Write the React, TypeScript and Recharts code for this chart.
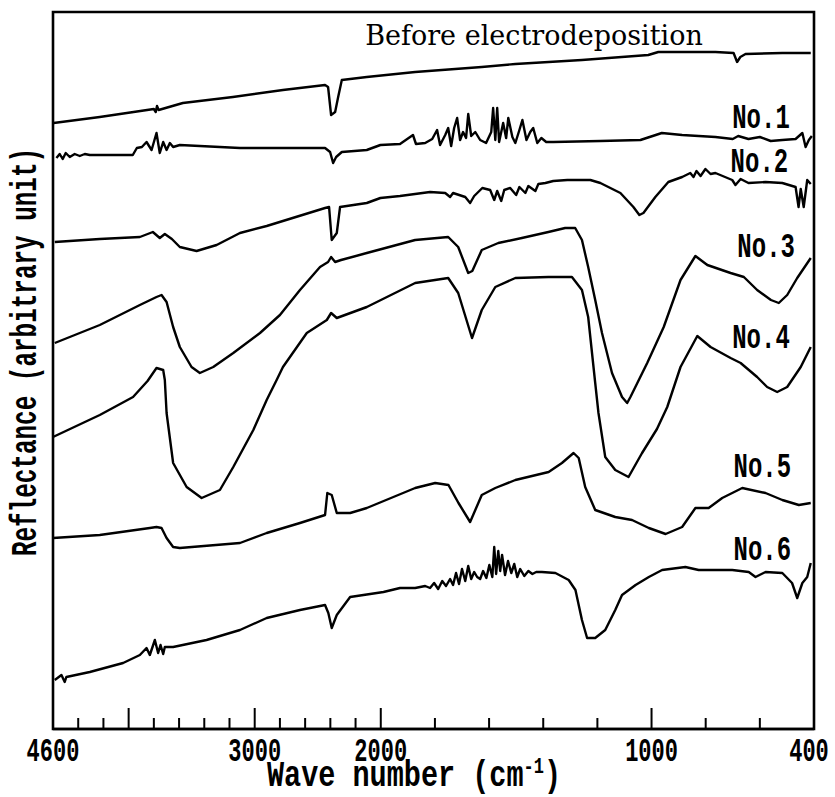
import React from 'react';
import { LineChart, Line, XAxis, YAxis, ReferenceArea, ReferenceDot, Label } from 'recharts';

// ---------- axis model (IR chart paper: scale doubles below 2000 cm-1) ----------
const LEFT_WN = 4600;
const BREAK_WN = 2000;
const RIGHT_WN = 400;
const EXPAND = 2.1478;
const toU = (w: number) =>
  w >= BREAK_WN ? LEFT_WN - w : LEFT_WN - BREAK_WN + (BREAK_WN - w) * EXPAND;
const U_MAX = toU(RIGHT_WN);
const Y_MAX = 717;

// ---------- ticks ----------
const tickWn = [4600, 4400, 4200, 4000, 3800, 3600, 3400, 3200, 3000, 2800, 2600, 2400, 2200, 2000, 1800, 1600, 1400, 1200, 1000, 800, 600, 400];
const majorWn = [4000, 3000, 2000, 1000];
const labeledWn = [4600, 3000, 2000, 1000, 400];

// ---------- spectra: [wave number (cm-1), reflectance (arb.)] ----------
const before: [number, number][] = [
  [4595, 606], [4229, 612], [3800, 620], [3785, 617], [3775, 623], [3762, 619], [3570, 626], [3173, 632],
  [2776, 639], [2442, 644], [2418, 642], [2394, 614], [2362, 617], [2338, 632], [2309, 649], [2111, 652],
  [1873, 657], [1627, 662], [1503, 665], [1257, 669], [1012, 674], [975, 677], [764, 677], [697, 676],
  [684, 667], [672, 672], [653, 675], [517, 676], [412, 676],
];
const no1: [number, number][] = [
  [4573, 571], [4547, 575], [4523, 570], [4499, 576], [4467, 572], [4428, 575], [4388, 573], [4348, 575],
  [4308, 574], [4150, 574], [3967, 574], [3935, 581], [3895, 582], [3858, 587], [3818, 579], [3779, 596],
  [3753, 576], [3726, 587], [3699, 579], [3673, 586], [3647, 582], [3594, 584], [3117, 581], [2641, 581],
  [2442, 581], [2402, 577], [2378, 566], [2354, 572], [2309, 577], [2111, 579], [2003, 584], [1929, 585],
  [1881, 594], [1870, 585], [1836, 586], [1810, 590], [1792, 599], [1781, 584], [1762, 594], [1751, 601],
  [1740, 583], [1729, 601], [1718, 611], [1707, 589], [1696, 597], [1685, 591], [1677, 615], [1666, 593],
  [1651, 597], [1633, 589], [1611, 586], [1592, 597], [1585, 621], [1577, 589], [1570, 621], [1563, 587],
  [1548, 606], [1537, 591], [1529, 611], [1514, 592], [1503, 586], [1488, 599], [1477, 609], [1462, 589],
  [1448, 597], [1437, 601], [1422, 586], [1407, 591], [1389, 587], [1363, 587], [1189, 588], [1041, 589],
  [962, 596], [887, 594], [764, 592], [700, 590], [680, 593], [642, 590], [600, 592], [560, 588],
  [517, 589], [468, 590], [443, 596], [431, 582], [419, 589], [408, 593],
];
const no2: [number, number][] = [
  [4586, 487], [4229, 490], [3911, 492], [3808, 497], [3753, 491], [3713, 495], [3657, 490], [3594, 482],
  [3461, 478], [3302, 484], [3117, 496], [2905, 503], [2442, 521], [2410, 522], [2389, 489], [2349, 496],
  [2323, 522], [2111, 526], [2003, 531], [1929, 533], [1818, 537], [1762, 536], [1744, 532], [1733, 536],
  [1688, 532], [1670, 526], [1655, 533], [1625, 541], [1596, 539], [1581, 529], [1570, 538], [1555, 528],
  [1544, 539], [1522, 541], [1500, 534], [1488, 542], [1466, 536], [1455, 543], [1429, 538], [1418, 545],
  [1392, 546], [1363, 548], [1311, 549], [1226, 549], [1189, 546], [1115, 536], [1067, 522], [1045, 514],
  [1030, 516], [986, 532], [938, 547], [887, 552], [857, 556], [845, 552], [834, 558], [819, 553],
  [801, 560], [782, 555], [764, 556], [702, 549], [690, 544], [671, 550], [642, 546], [579, 547],
  [517, 546], [468, 542], [457, 522], [449, 540], [438, 522], [425, 549], [412, 545],
];
const no3: [number, number][] = [
  [4586, 386], [4229, 404], [3911, 424], [3779, 432], [3739, 434], [3699, 427], [3647, 402], [3594, 382],
  [3501, 362], [3435, 356], [3329, 362], [3170, 376], [2958, 396], [2800, 414], [2641, 439], [2482, 462],
  [2418, 467], [2394, 472], [2362, 467], [2315, 469], [2111, 476], [1873, 489], [1751, 492], [1714, 482],
  [1677, 456], [1662, 458], [1627, 479], [1566, 486], [1479, 491], [1381, 497], [1319, 501], [1282, 501],
  [1257, 489], [1234, 462], [1208, 429], [1183, 396], [1146, 356], [1109, 332], [1090, 326], [1078, 332],
  [1016, 366], [955, 402], [893, 449], [838, 473], [794, 464], [708, 456], [659, 452], [610, 439],
  [559, 429], [530, 426], [499, 434], [462, 451], [412, 471],
];
const no4: [number, number][] = [
  [4600, 292], [4229, 314], [3965, 332], [3850, 348], [3779, 361], [3726, 359], [3713, 349], [3699, 316],
  [3647, 266], [3540, 242], [3421, 231], [3276, 239], [3170, 262], [3011, 299], [2905, 329], [2826, 349],
  [2776, 362], [2587, 396], [2428, 409], [2394, 416], [2349, 411], [2111, 422], [1873, 446], [1751, 451],
  [1714, 436], [1663, 391], [1627, 419], [1577, 442], [1503, 451], [1381, 452], [1294, 452], [1257, 439],
  [1234, 412], [1208, 346], [1196, 316], [1171, 272], [1134, 259], [1085, 252], [1035, 276], [980, 300],
  [942, 322], [893, 362], [831, 393], [782, 382], [708, 371], [671, 366], [610, 352], [573, 342],
  [536, 337], [499, 342], [449, 362], [412, 382],
];
const no5: [number, number][] = [
  [4600, 191], [4229, 194], [3832, 201], [3779, 202], [3739, 201], [3699, 191], [3647, 182], [3594, 181],
  [3117, 186], [2905, 196], [2641, 206], [2442, 214], [2424, 236], [2389, 234], [2349, 216], [2243, 216],
  [2111, 221], [1873, 241], [1799, 246], [1750, 244], [1713, 226], [1670, 207], [1627, 234], [1577, 241],
  [1503, 249], [1380, 257], [1331, 266], [1288, 276], [1269, 271], [1245, 242], [1208, 219], [1134, 212],
  [1072, 209], [1010, 201], [948, 195], [887, 202], [838, 221], [789, 221], [739, 231], [665, 241],
  [579, 236], [517, 229], [456, 224], [412, 226],
];
const no6: [number, number][] = [
  [4586, 49], [4533, 54], [4507, 47], [4494, 52], [4308, 57], [4044, 66], [3911, 74], [3858, 81],
  [3832, 74], [3792, 89], [3766, 76], [3747, 84], [3726, 75], [3713, 82], [3647, 82], [3382, 89],
  [3117, 99], [2905, 111], [2641, 119], [2442, 124], [2416, 116], [2389, 101], [2349, 114], [2243, 132],
  [1990, 137], [1929, 141], [1873, 141], [1836, 143], [1818, 141], [1803, 146], [1788, 140], [1773, 148],
  [1759, 143], [1744, 150], [1733, 144], [1722, 156], [1711, 145], [1700, 160], [1688, 148], [1677, 163],
  [1666, 150], [1655, 157], [1644, 152], [1633, 150], [1622, 158], [1610, 151], [1599, 164], [1588, 152],
  [1581, 182], [1574, 155], [1566, 178], [1559, 158], [1552, 174], [1541, 154], [1530, 168], [1518, 156],
  [1507, 165], [1496, 152], [1485, 160], [1470, 153], [1455, 158], [1440, 155], [1426, 157], [1405, 157],
  [1355, 156], [1306, 149], [1281, 139], [1257, 109], [1238, 91], [1208, 91], [1171, 99], [1134, 119],
  [1109, 134], [1059, 144], [1010, 152], [961, 159], [875, 162], [826, 159], [764, 159], [702, 159],
  [641, 157], [616, 152], [579, 157], [517, 156], [481, 146], [462, 131], [443, 146], [425, 152],
  [412, 166],
];

const spectra = [before, no1, no2, no3, no4, no5, no6];

// annotation texts anchored in data units
const sampleNames = ['No.1', 'No.2', 'No.3', 'No.4', 'No.5', 'No.6'];
const nameWn = [702, 708, 683, 702, 697, 697];
const nameR = [601, 557, 472, 381, 252, 169];
const beforeTitle = 'Before electrodeposition';
const beforeTitleWn = 2124;
const beforeTitleR = 684;
const xTitle = 'Wave number (cm';
const yTitle = 'Reflectance (arbitrary unit)';

const MONO = '"Liberation Mono", "DejaVu Sans Mono", monospace';
const SERIF = '"DejaVu Serif", "Liberation Serif", serif';

const renderTick = (props: any) => {
  const { x, y, payload } = props;
  const wn = tickWn.find((w) => Math.abs(toU(w) - payload.value) < 1e-6);
  if (wn === undefined) return <g />;
  const isEdge = wn === LEFT_WN || wn === RIGHT_WN;
  const len = majorWn.includes(wn) ? 21 : 11;
  const labelled = labeledWn.includes(wn);
  const dx = wn === RIGHT_WN ? -5 : 0;
  return (
    <g>
      {!isEdge && <line x1={x} y1={y} x2={x} y2={y - len} stroke="#000" strokeWidth={2} />}
      {labelled && (
        <g transform={`translate(${x + dx},${y + 32}) scale(1,1.55)`}>
          <text x={0} y={0} textAnchor="middle" fontFamily={MONO} fontWeight="bold" fontSize={22} fill="#000">
            {String(wn)}
          </text>
        </g>
      )}
    </g>
  );
};

const renderAxisTitles = () => (
  <g>
    <g transform="translate(267,786) scale(1,1.3)">
      <text x={0} y={0} fontFamily={MONO} fontWeight="bold" fontSize={28.5} fill="#000">
        {xTitle}
        <tspan fontSize={17} dy={-10}>-1</tspan>
        <tspan dy={10}>)</tspan>
      </text>
    </g>
    <g transform="translate(36,352) rotate(-90) scale(1,1.55)">
      <text x={0} y={0} textAnchor="middle" fontFamily={MONO} fontWeight="bold" fontSize={24.3} fill="#000">
        {yTitle}
      </text>
    </g>
  </g>
);

const makeNameShape = (name: string) => (p: any) => (
  <g transform={`translate(${p.cx},${p.cy}) scale(1,1.5)`}>
    <text x={0} y={0} fontFamily={MONO} fontWeight="bold" fontSize={24} fill="#000">
      {name}
    </text>
  </g>
);

const titleShape = (p: any) => (
  <text x={p.cx} y={p.cy} fontFamily={SERIF} fontSize={27} fill="#000">
    {beforeTitle}
  </text>
);

export default function App() {
  const tickU = tickWn.map(toU);
  const tables = spectra.map((s) => s.map(([w, r]) => ({ u: toU(w), r })));
  return (
    <div style={{ position: 'absolute', left: 0, top: 0, width: 835, height: 797, background: '#fff' }}>
      <LineChart width={835} height={797} margin={{ top: 12, right: 21, bottom: 8, left: 53 }}>
        <XAxis
          type="number"
          dataKey="u"
          domain={[0, U_MAX]}
          ticks={tickU}
          interval={0}
          height={60}
          tickLine={false}
          tickSize={0}
          tickMargin={0}
          axisLine={{ stroke: '#000', strokeWidth: 2.6 }}
          tick={renderTick}
          allowDataOverflow
        >
          <Label content={renderAxisTitles} />
        </XAxis>
        <YAxis type="number" domain={[0, Y_MAX]} hide allowDataOverflow />
        <ReferenceArea x1={0} x2={U_MAX} y1={0} y2={Y_MAX} fill="none" stroke="#000" strokeWidth={2.6} ifOverflow="visible" />
        {tables.map((t, i) => (
          <Line
            key={i}
            data={t}
            dataKey="r"
            type="linear"
            dot={false}
            stroke="#000"
            strokeWidth={2.4}
            strokeLinejoin="round"
            isAnimationActive={false}
          />
        ))}
        <ReferenceDot x={toU(beforeTitleWn)} y={beforeTitleR} r={0} ifOverflow="visible" shape={titleShape} />
        {sampleNames.map((n, i) => (
          <ReferenceDot key={n} x={toU(nameWn[i])} y={nameR[i]} r={0} ifOverflow="visible" shape={makeNameShape(n)} />
        ))}
      </LineChart>
    </div>
  );
}
